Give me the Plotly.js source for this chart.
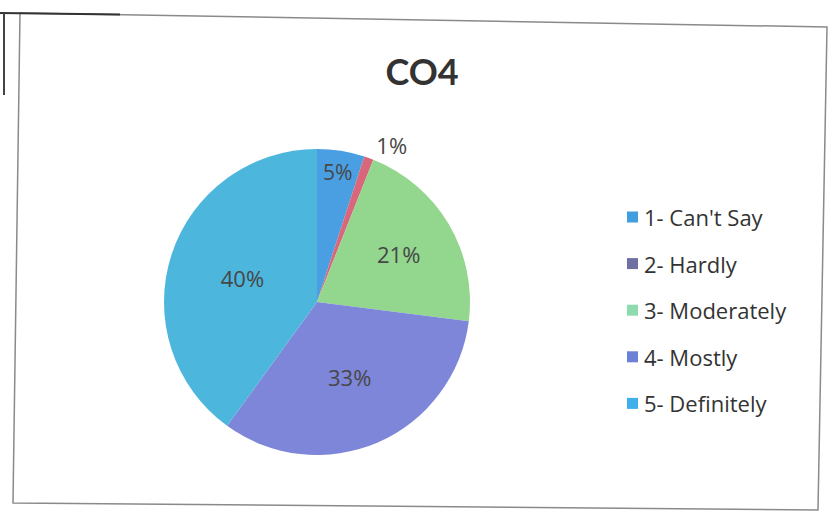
<!DOCTYPE html>
<html>
<head>
<meta charset="utf-8">
<script src="https://cdn.plot.ly/plotly-3.0.1.min.js"></script>
<style>
  html, body { margin: 0; padding: 0; background: #ffffff; }
  #chart { width: 832px; height: 514px; }
</style>
</head>
<body>
<div id="chart"></div>
<script>
// ---- data ----
const chartTitle = "CO4";
const categories = ["1- Can't Say", "2- Hardly", "3- Moderately", "4- Mostly", "5- Definitely"];
const percentValues = [5, 1, 21, 33, 40];

// ---- style ----
const sliceColors = ["#4a9fe3", "#d8677c", "#93d68e", "#7d86d8", "#4cb6dc"];
const legendSwatchColors = ["#3f9de0", "#6e6fa2", "#8edcae", "#6b80d6", "#3fb0ea"];
const W = 832, H = 514;
const px = v => v / W;
const py = v => 1 - v / H;
const bodyFont = "'Open Sans', Lato, sans-serif";

const trace = {
  type: "pie",
  labels: categories,
  values: percentValues,
  sort: false,
  direction: "clockwise",
  rotation: 0,
  marker: { colors: sliceColors, line: { width: 0 } },
  textinfo: "percent",
  texttemplate: "%{percent:.0%}",
  textposition: ["inside", "outside", "inside", "inside", "inside"],
  insidetextorientation: "horizontal",
  textfont: { family: bodyFont, size: 22, color: "#474747" },
  outsidetextfont: { family: bodyFont, size: 22, color: "#474747" },
  domain: { x: [px(164), px(470)], y: [py(455), py(149)] },
  showlegend: false,
  hoverinfo: "label+percent"
};

// legend drawn from the categories array
const legendTop = 217, legendStep = 46.6;
const shapes = [];
const annotations = [];
categories.forEach((c, i) => {
  const yc = legendTop + i * legendStep;
  shapes.push({
    type: "rect", xref: "paper", yref: "paper",
    x0: px(627), x1: px(638), y0: py(yc + 5.5), y1: py(yc - 5.5),
    fillcolor: legendSwatchColors[i], line: { width: 0 }
  });
  annotations.push({
    xref: "paper", yref: "paper", x: px(642), y: py(yc),
    xanchor: "left", yanchor: "middle", showarrow: false,
    text: c, font: { family: bodyFont, size: 22, color: "#333333" }
  });
});

// scanned chart frame
shapes.push({
  type: "path", xref: "paper", yref: "paper",
  path: `M ${px(20)} ${py(13)} L ${px(827)} ${py(27)} L ${px(818)} ${py(510)} L ${px(13)} ${py(503)} Z`,
  line: { color: "#8a8a8a", width: 1.5 }, fillcolor: "rgba(0,0,0,0)"
});
shapes.push({
  type: "line", xref: "paper", yref: "paper",
  x0: px(0), x1: px(120), y0: py(13), y1: py(14.5),
  line: { color: "#333333", width: 2 }
});
shapes.push({
  type: "line", xref: "paper", yref: "paper",
  x0: px(4), x1: px(4), y0: py(13), y1: py(95),
  line: { color: "#444444", width: 2 }
});

const layout = {
  width: W, height: H,
  margin: { l: 0, r: 0, t: 0, b: 0 },
  paper_bgcolor: "#ffffff",
  plot_bgcolor: "#ffffff",
  title: {
    text: "<b>" + chartTitle + "</b>",
    x: px(422), xanchor: "center",
    y: py(72), yanchor: "middle",
    font: { family: "Lato, 'Open Sans', sans-serif", size: 36, color: "#333333" }
  },
  showlegend: false,
  shapes: shapes,
  annotations: annotations
};

Plotly.newPlot("chart", [trace], layout, { displayModeBar: false, staticPlot: true });
</script>
</body>
</html>
